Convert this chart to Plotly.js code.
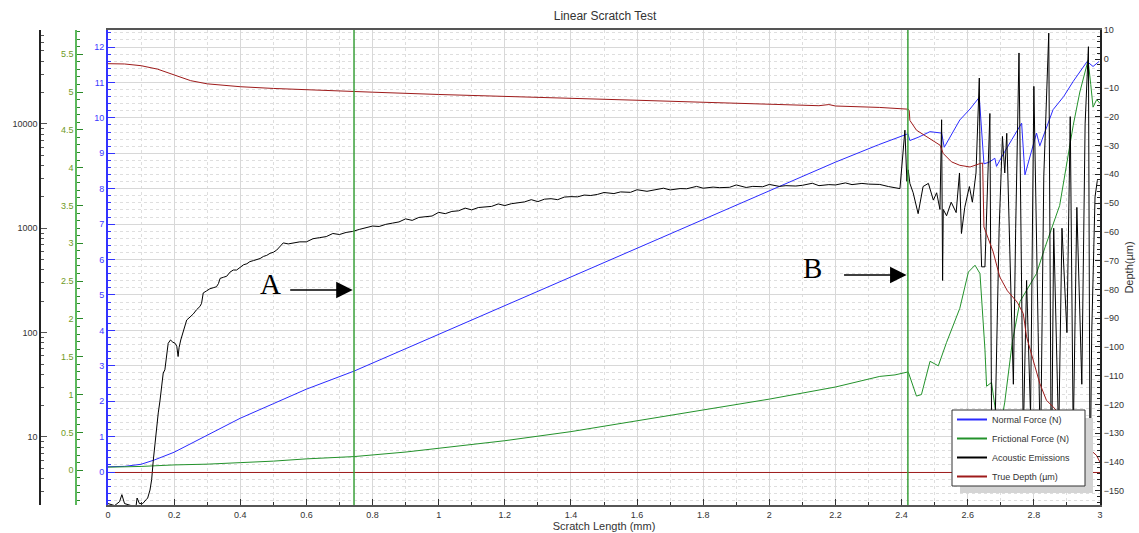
<!DOCTYPE html>
<html><head><meta charset="utf-8">
<script src="https://cdn.plot.ly/plotly-3.0.1.min.js"></script>
<style>html,body{margin:0;padding:0;background:#fff}#chart{width:1139px;height:533px}</style>
</head><body><div id="chart"></div>
<script>
// ---------------- data ----------------
const normalX = [0,0.05,0.1,0.14,0.2,0.25,0.3,0.35,0.4,0.5,0.6,0.744,1.0,1.4,1.8,2.2,2.33,2.419,2.425,2.45,2.486,2.521,2.529,2.55,2.576,2.607,2.635,2.649,2.665,2.682,2.687,2.712,2.74,2.763,2.773,2.79,2.808,2.818,2.858,2.89,2.919,2.961,2.979,2.997];
const normalForce = [0.15,0.16,0.22,0.34,0.56,0.80,1.05,1.29,1.52,1.93,2.34,2.85,3.89,5.50,7.12,8.75,9.24,9.55,9.36,9.45,9.61,9.57,9.17,9.5,9.94,10.25,10.58,8.70,8.75,8.86,8.63,9.05,9.5,9.85,8.39,9.0,9.57,9.21,10.23,10.6,11.03,11.59,11.45,11.59];

const frictionX = [0,0.1,0.2,0.3,0.4,0.5,0.6,0.744,0.9,1.0,1.2,1.4,1.6,1.8,1.9,2.0,2.2,2.334,2.38,2.42,2.445,2.46,2.486,2.511,2.536,2.576,2.602,2.622,2.637,2.652,2.657,2.672,2.682,2.69,2.70,2.712,2.735,2.758,2.808,2.834,2.878,2.919,2.939,2.964,2.972,2.979,2.99,3.0];
const frictionalForce = [0.04,0.05,0.07,0.08,0.10,0.12,0.15,0.18,0.24,0.29,0.39,0.51,0.65,0.80,0.86,0.94,1.10,1.24,1.26,1.30,0.98,1.00,1.44,1.38,1.69,2.14,2.62,2.71,2.60,1.60,1.11,1.16,0.85,0.55,0.60,0.90,1.70,2.23,2.60,2.95,3.50,4.56,5.00,5.42,5.10,4.80,4.90,4.85];

const acousticX = [0,0.02,0.035,0.042,0.05,0.07,0.085,0.088,0.095,0.105,0.115,0.12,0.127,0.132,0.137,0.142,0.147,0.152,0.157,0.162,0.167,0.172,0.177,0.182,0.189,0.196,0.203,0.208,0.212,0.215,0.22,0.228,0.238,0.248,0.258,0.268,0.278,0.283,0.288,0.298,0.308,0.318,0.328,0.334,0.339,0.349,0.359,0.369,0.379,0.389,0.399,0.41,0.42,0.429,0.44,0.45,0.46,0.47,0.48,0.49,0.50,0.51,0.52,0.53,0.545,0.56,0.58,0.60,0.62,0.64,0.66,0.68,0.70,0.72,0.74,0.76,0.78,0.80,0.82,0.84,0.86,0.88,0.90,0.92,0.94,0.96,0.98,1.00,1.02,1.04,1.06,1.08,1.10,1.12,1.14,1.16,1.18,1.20,1.22,1.24,1.26,1.28,1.30,1.32,1.34,1.36,1.38,1.40,1.42,1.44,1.46,1.48,1.50,1.53,1.55,1.58,1.60,1.63,1.65,1.68,1.70,1.73,1.75,1.78,1.80,1.83,1.85,1.88,1.90,1.93,1.95,1.98,2.00,2.03,2.05,2.08,2.10,2.13,2.15,2.18,2.20,2.23,2.25,2.28,2.30,2.334,2.36,2.395,2.41,2.416,2.42,2.425,2.435,2.45,2.465,2.481,2.496,2.506,2.516,2.521,2.524,2.526,2.536,2.55,2.565,2.575,2.581,2.591,2.605,2.614,2.625,2.635,2.639,2.642,2.652,2.667,2.672,2.682,2.695,2.705,2.712,2.718,2.727,2.738,2.745,2.755,2.768,2.778,2.79,2.80,2.813,2.82,2.83,2.845,2.853,2.86,2.875,2.885,2.90,2.91,2.919,2.93,2.945,2.955,2.965,2.97,2.975,2.985,2.992,3.0];
const acousticEmissions = [2.3,2.2,2.4,2.8,2.3,2.2,2.2,2.6,2.3,2.3,2.5,2.6,3.1,3.9,6.0,8.7,11.7,17,22,30,41,44,59,79,85,81,79,74,59,72,85,105,132,141,151,166,178,191,240,251,263,269,275,295,331,339,347,380,398,398,417,447,457,479,490,501,513,537,550,575,589,617,661,724,708,724,741,741,794,813,832,891,871,912,933,
  975,1010,1050,1040,1090,1120,1150,1230,1190,1270,1300,1310,1420,1380,1450,1470,1560,1500,1580,1600,1620,1710,1650,1720,1760,1790,1880,1800,1900,1920,1880,1990,2010,2000,2080,2060,2110,2200,
  2150,2230,2210,2340,2260,2310,2420,2330,2400,2390,2520,2420,2480,2450,2470,2600,2460,2520,2500,2630,2520,2560,2540,2580,2700,2560,2620,2600,2720,2620,2690,2650,
  2630,2512,2399,8710,2818,3631,2692,2188,1380,2512,2692,1862,2188,1514,10965,316,1514,1318,1778,1413,3388,891,1585,2512,1778,3388,27542,891,427,427,12589,16,10,1000,7586,3388,8128,661,32,1000,47863,10,316,16,22909,100,6,3162,74131,3,1000,10,1000,100,11749,10,1585,32,10000,54954,3,100,1995,2884];

const depthX = [0,0.05,0.1,0.15,0.2,0.25,0.3,0.35,0.4,0.5,0.6,0.7,0.8,1.0,1.2,1.4,1.6,1.8,2.0,2.1,2.15,2.18,2.2,2.334,2.419,2.423,2.425,2.445,2.486,2.516,2.526,2.551,2.576,2.607,2.637,2.645,2.649,2.677,2.697,2.72,2.75,2.768,2.778,2.798,2.818,2.838,2.858,2.9,2.95,2.977,2.989,3.0];
const trueDepth = [-1.6,-1.7,-2.3,-3.5,-5.5,-7.5,-8.6,-9.2,-9.6,-10.2,-10.7,-11.1,-11.5,-12.3,-12.9,-13.6,-14.3,-15.0,-15.6,-15.9,-16.2,-15.8,-16.3,-16.8,-17.4,-17.8,-21.3,-24.7,-27.6,-29.9,-32.8,-35.7,-36.9,-37.5,-36.3,-36.1,-58.3,-67.0,-75.7,-80.5,-84.5,-88.4,-96.5,-104.6,-112.7,-118.5,-120.8,-126,-134,-136.4,-137.6,-140];

const baselineX = [0,3];
const baselineDepth = [-143.6,-143.6];

const eventX = [0.744, 2.419];           // vertical event lines
const eventLabels = ['A','B'];
const eventLabelX = [0.492, 2.132];
const eventLabelY = [5.3, 5.75];
const eventArrowY = [5.14, 5.56];

const seriesNames = ['Normal Force (N)','Frictional Force (N)','Acoustic Emissions','True Depth (µm)'];
const seriesColors = ['#2a2aff','#23922b','#000000','#9e1b1b'];

// ---------------- chart ----------------
const FONT = 'Liberation Sans, Arial, sans-serif';
const W = 1139, H = 533;
const PT = 30, PB = 505;                 // plot area top / bottom in px
const px = v => v / W;
const py = v => (PB - v) / (PB - PT);    // paper y from pixel y

const seriesX = [normalX, frictionX, acousticX, depthX];
const seriesY = [normalForce, frictionalForce, acousticEmissions, trueDepth];
const seriesAxis = ['y', 'y2', 'y3', 'y4'];

const traces = [
  {x: baselineX, y: baselineDepth, yaxis: 'y4', mode: 'lines', line: {color: seriesColors[3], width: 1}, showlegend: false, hoverinfo: 'skip'}
];
seriesNames.forEach((n, i) => traces.push({x: seriesX[i], y: seriesY[i], yaxis: seriesAxis[i], name: n, legendgroup: n,
  mode: 'lines', line: {color: seriesColors[i], width: 1}, showlegend: false}));
// legend entries (thicker sample lines, as in the original legend)
seriesNames.forEach((n, i) => traces.push({x: [null], y: [null], yaxis: seriesAxis[i], name: n, legendgroup: n,
  mode: 'lines', line: {color: seriesColors[i], width: 2}, showlegend: true, hoverinfo: 'skip'}));

const shapes = eventX.map(v => ({type: 'line', xref: 'x', yref: 'paper', x0: v, x1: v, y0: 0, y1: 1, line: {color: '#3aa03a', width: 1.5}, layer: 'above'}));
// legend shadow and frame
shapes.push({type: 'rect', xref: 'paper', yref: 'paper', x0: px(960), x1: px(1093), y0: py(493), y1: py(418), fillcolor: '#d4d4d4', line: {width: 0}, layer: 'above'});
shapes.push({type: 'rect', xref: 'paper', yref: 'paper', x0: px(952), x1: px(1085), y0: py(486), y1: py(410), fillcolor: '#ffffff', line: {color: '#333', width: 1}, layer: 'above'});

const annotations = [];
eventLabels.forEach((t, i) => {
  annotations.push({x: eventLabelX[i], y: eventLabelY[i], xref: 'x', yref: 'y', text: t, showarrow: false,
    font: {family: 'Liberation Serif, Times New Roman, serif', size: 29, color: '#000'}});
  annotations.push({x: eventX[i] - 0.004, y: eventArrowY[i], xref: 'x', yref: 'y', text: '', showarrow: true,
    ax: -64, ay: 0, arrowhead: 2, arrowsize: 2.2, arrowwidth: 1.5, arrowcolor: '#000', standoff: 0});
});

const layout = {
  width: W, height: H,
  margin: {l: 0, r: 0, t: PT, b: H - PB},
  paper_bgcolor: '#fff', plot_bgcolor: '#fff',
  font: {family: FONT, size: 9, color: '#333'},
  title: {text: 'Linear Scratch Test', x: 605/W, xanchor: 'center', y: 1 - 16/H, yanchor: 'middle', font: {family: FONT, size: 12, color: '#333'}},
  showlegend: true,
  legend: {x: px(952), y: py(405), xanchor: 'left', yanchor: 'top', bgcolor: 'rgba(0,0,0,0)', borderwidth: 0,
    font: {family: FONT, size: 9, color: '#333'}, traceorder: 'normal'},
  xaxis: {domain: [px(108), px(1100)], range: [0, 3], dtick: 0.2, tick0: 0, showline: true, linecolor: '#555', linewidth: 2, mirror: true,
    ticks: 'inside', ticklen: 6, tickcolor: '#333', showgrid: true, gridcolor: '#d8d8d8', gridwidth: 1, zeroline: false,
    tickfont: {family: FONT, size: 9, color: '#333'},
    minor: {dtick: 0.1, showgrid: true, gridcolor: '#dedede', griddash: 'dot', ticks: 'inside', ticklen: 3, tickcolor: '#333'},
    title: {text: 'Scratch Length (mm)', font: {family: FONT, size: 11, color: '#333'}, standoff: 1}, automargin: false},
  yaxis: {range: [-0.93, 12.48], dtick: 1, tick0: 0, showline: true, linecolor: '#3333ff', linewidth: 2, ticks: 'inside', ticklen: 7, tickcolor: '#3333ff',
    showgrid: true, gridcolor: '#d8d8d8', zeroline: false, tickfont: {family: FONT, size: 9, color: '#3a3aff'},
    minor: {dtick: 0.2, showgrid: true, gridcolor: '#dedede', griddash: 'dot', ticks: 'inside', ticklen: 3, tickcolor: '#3333ff'}, automargin: false},
  yaxis2: {overlaying: 'y', anchor: 'free', position: px(76), side: 'left', range: [-0.46, 5.82], dtick: 0.5, tick0: 0,
    showline: true, linecolor: '#5cb85c', linewidth: 1.5, ticks: 'inside', ticklen: 6, tickcolor: '#2a8a2a', showgrid: false, zeroline: false,
    tickfont: {family: FONT, size: 9, color: '#6e9a1e'},
    minor: {dtick: 0.1, ticks: 'inside', ticklen: 3, tickcolor: '#2a8a2a', showgrid: false}, automargin: false},
  yaxis3: {overlaying: 'y', anchor: 'free', position: px(40), side: 'left', type: 'log', range: [0.348, 4.90],
    tickvals: [10, 100, 1000, 10000], ticktext: ['10', '100', '1000', '10000'],
    showline: true, linecolor: '#222', linewidth: 1.5, ticks: 'inside', ticklen: 6, tickcolor: '#555', showgrid: false, zeroline: false,
    tickfont: {family: FONT, size: 9, color: '#333'},
    minor: {dtick: 'D1', ticks: 'inside', ticklen: 3, tickcolor: '#555', showgrid: false}, automargin: false},
  yaxis4: {overlaying: 'y', anchor: 'x', side: 'right', range: [-154.9, 10.1], dtick: 10, tick0: 0,
    showline: true, linecolor: '#222', linewidth: 2, ticks: 'inside', ticklen: 5, tickcolor: '#222', showgrid: false, zeroline: false,
    tickfont: {family: FONT, size: 9, color: '#333'},
    minor: {dtick: 2, ticks: 'inside', ticklen: 3, tickcolor: '#222', showgrid: false},
    title: {text: 'Depth(µm)', font: {family: FONT, size: 11, color: '#333'}, standoff: 2}, automargin: false},
  shapes: shapes,
  annotations: annotations
};

Plotly.newPlot('chart', traces, layout, {displayModeBar: false, responsive: false});
</script></body></html>
